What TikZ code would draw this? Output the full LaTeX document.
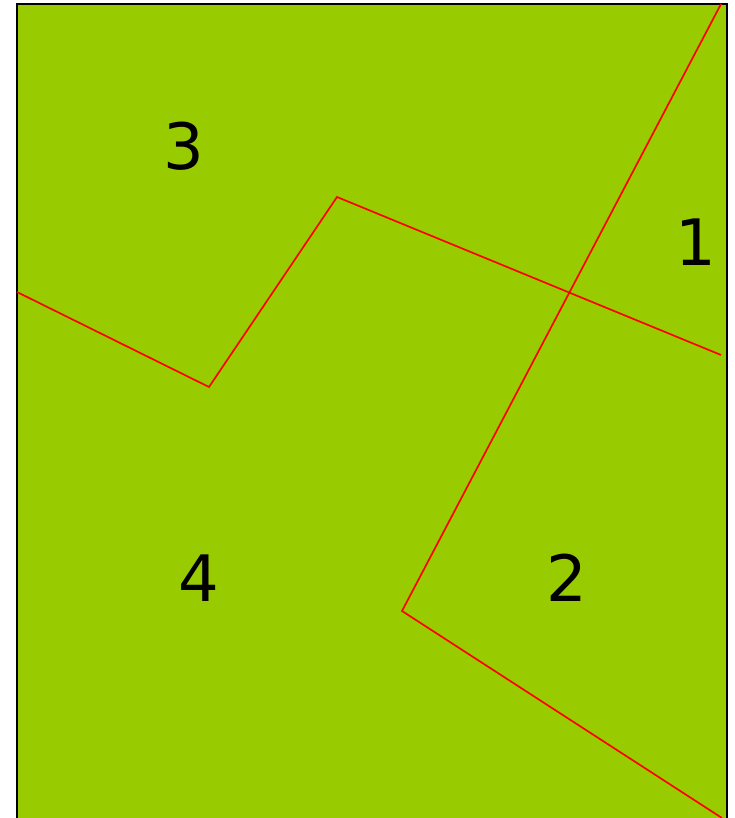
\documentclass[tikz,border=0pt]{standalone}
\usepackage{fontspec}
\setmainfont{DejaVu Sans}
\usepackage{xcolor}
\usepackage{tikz}
\definecolor{fieldgreen}{HTML}{99CC00}

\begin{document}
\begin{tikzpicture}[x=1pt, y=-1pt,
                cut/.style={draw=red, line width=1.7pt, line join=miter},
                num/.style={font=\fontsize{64}{64}\selectfont, inner sep=0pt}]
                \useasboundingbox (0,0) rectangle (734,818);
                \clip (0,0) rectangle (734,818);
                \draw[fill=fieldgreen, line width=2.6pt] (17,4) rectangle (727,840);

                % boundary points
                \coordinate (ta) at (721,4);
                \coordinate (tb) at (402,611);
                \coordinate (tc) at (722,818);
                \coordinate (la) at (17,292);
                \coordinate (lb) at (209,387);
                \coordinate (lc) at (337,197);
                \coordinate (ld) at (721,355);

                \draw[cut] (ta) -- (tb) -- (tc);
                \draw[cut] (la) -- (lb) -- (lc) -- (ld);

                \node[num] (one) at (696,242) {1};
                \node[num] (two) at (567,578) {2};
                \node[num] (three) at (184,146) {3};
                \node[num] (four) at (199,578) {4};
            \end{tikzpicture}
\end{document}
